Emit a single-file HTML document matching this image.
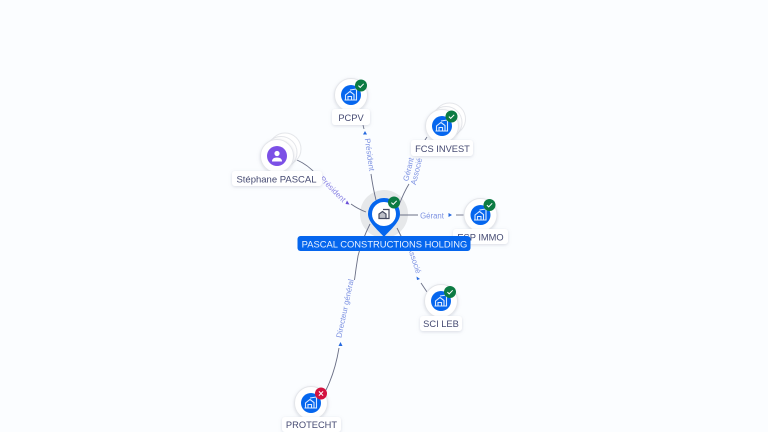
<!DOCTYPE html>
<html><head><meta charset="utf-8">
<style>
html,body{margin:0;padding:0;background:#fbfdff;width:768px;height:432px;overflow:hidden}
svg{display:block}
text{font-family:"Liberation Sans",sans-serif}
.lb{font-size:9.3px;fill:#454a72;text-anchor:middle}
.e{font-size:7.8px;fill:#7d92e2;text-anchor:middle}
.l{fill:none;stroke:#6a6f86;stroke-width:.9}
.nl{fill:#fff;filter:url(#s)}
.ic{fill:none;stroke:#dbe9ff;stroke-width:1.1}
</style></head><body>
<svg width="768" height="432" viewBox="0 0 768 432" xmlns="http://www.w3.org/2000/svg">
<defs>
<filter id="s" x="-30%" y="-40%" width="160%" height="200%"><feDropShadow dx="0" dy="1" stdDeviation="1.6" flood-color="#8890a8" flood-opacity=".3"/></filter>
<g id="b"><path class="ic" d="M-5.5 5V0L-1 -3.5L3 -.5V5M-3 5V1.5H.5V5M-1 -5L5.5 -6V5H-6.5"/></g>
<g id="ok"><circle r="6" fill="#0c7b43"/><path d="M-2.6 .1L-.8 1.9L2.7 -1.7" fill="none" stroke="#fff" stroke-width="1"/></g>
<g id="node"><circle r="16.5" fill="#fff" stroke="#e4e6ea" stroke-width="1" filter="url(#s)"/><circle r="10" fill="#0566ee"/><use href="#b"/></g>
</defs>
<rect width="768" height="432" fill="#fbfdff"/>

<circle cx="384" cy="214" r="24" fill="#e6e8ea"/>

<!-- connectors -->
<path class="l" d="M363 125L364 129"/>
<path class="l" d="M371 174Q373 188 376 200"/>
<path class="l" d="M427 137Q421 146 417 152"/>
<path class="l" d="M409 184Q404 192 399 205"/>
<path class="l" d="M297 160Q308 165 316 174"/>
<path class="l" d="M351 204Q358 209 366 212"/>
<path class="l" d="M400 215L418 215"/>
<path class="l" d="M456 215L464 215"/>
<path class="l" d="M397 228L406 246"/>
<path class="l" d="M421 283L427 292"/>
<path class="l" d="M370 224Q362 240 358 256Q356 268 354.500 280"/>
<path class="l" d="M339 348Q335 372 326 390"/>

<!-- arrowheads -->
<path d="M365 131L363 134.500H367Z" fill="#2468de"/>
<path d="M347 200.500L349.500 204.500L345.500 204Z" fill="#6a4fd8"/>
<path d="M452 215L448.500 213V217Z" fill="#2468de"/>
<path d="M420 279L416.500 276.500L417 280Z" fill="#2468de"/>
<path d="M340.500 342L338.500 346H342.500Z" fill="#2468de"/>

<!-- edge labels -->
<text class="e" transform="translate(367 155) rotate(82)">Président</text>
<text class="e" transform="translate(411 170) rotate(-76)">Gérant</text>
<text class="e" transform="translate(419 172) rotate(-76)">Associé</text>
<text class="e" style="fill:#8d86e4" transform="translate(331 191) rotate(45)">Président</text>
<text class="e" x="432" y="218.500">Gérant</text>
<text class="e" transform="translate(412 261) rotate(72)">Associé</text>
<text class="e" transform="translate(347.500 309) rotate(-78)">Directeur général</text>

<!-- PCPV -->
<use href="#node" x="351" y="95"/>
<use href="#ok" x="361" y="85.500"/>
<rect class="nl" x="332" y="109" width="38" height="16" rx="3"/>
<text class="lb" x="351" y="121">PCPV</text>

<!-- FCS INVEST -->
<circle cx="449.500" cy="119" r="16" fill="#fff" stroke="#e4e6ea"/>
<circle cx="446" cy="122.500" r="16" fill="#fff" stroke="#e4e6ea"/>
<use href="#node" x="442" y="126"/>
<use href="#ok" x="451.500" y="116.500"/>
<rect class="nl" x="411" y="140" width="62" height="16" rx="3"/>
<text class="lb" x="442.500" y="152">FCS INVEST</text>

<!-- Stéphane -->
<circle cx="285" cy="149" r="16" fill="#fff" stroke="#e4e6ea"/>
<circle cx="281" cy="152.500" r="16" fill="#fff" stroke="#e4e6ea"/>
<circle cx="277" cy="156" r="16.500" fill="#fff" stroke="#e4e6ea" filter="url(#s)"/>
<circle cx="277" cy="156" r="10" fill="#7c50e6"/>
<circle cx="277" cy="153.500" r="2.600" fill="#fff"/>
<path d="M272 161.500Q272 157.500 277 157.500Q282 157.500 282 161.500Z" fill="#fff"/>
<rect class="nl" x="232" y="171" width="90" height="15" rx="3"/>
<text class="lb" x="276.500" y="182.500" style="font-size:9.5px">Stéphane PASCAL</text>

<!-- ESP IMMO -->
<use href="#node" x="480.500" y="215"/>
<use href="#ok" x="489.500" y="205"/>
<rect class="nl" x="453" y="229" width="55" height="15" rx="3"/>
<text class="lb" x="480.500" y="240.500">ESP IMMO</text>

<!-- SCI LEB -->
<use href="#node" x="441" y="301"/>
<use href="#ok" x="450" y="292"/>
<rect class="nl" x="420" y="316" width="42" height="15" rx="3"/>
<text class="lb" x="441" y="327">SCI LEB</text>

<!-- PROTECHT -->
<use href="#node" x="311" y="403"/>
<circle cx="321" cy="393.500" r="6" fill="#d3123f"/>
<path d="M318.900 391.400L323.100 395.600M323.100 391.400L318.900 395.600" stroke="#fff" stroke-width="1"/>
<rect class="nl" x="282" y="417" width="59" height="15" rx="3"/>
<text class="lb" x="311.500" y="428">PROTECHT</text>

<!-- center pin -->
<path d="M368 214A16 16 0 0 1 400 214C400 222 391 229 384 237C377 229 368 222 368 214Z" fill="#0566ee"/>
<circle cx="384" cy="214" r="12" fill="#fff"/>
<g fill="none" stroke="#454a60" stroke-width="1.200">
<path d="M379 218.500V214L382.500 211.500L386 214V218.500Z" fill="#454a60" fill-opacity=".35"/>
<path d="M383 209.500H389V218.500H386"/>
</g>
<use href="#ok" x="394" y="202.500"/>

<rect x="297.500" y="236" width="173" height="15" rx="3" fill="#0566ee"/>
<text x="384.500" y="247.500" font-size="9.400" fill="#e9f2ff" text-anchor="middle">PASCAL CONSTRUCTIONS HOLDING</text>
</svg>
</body></html>
